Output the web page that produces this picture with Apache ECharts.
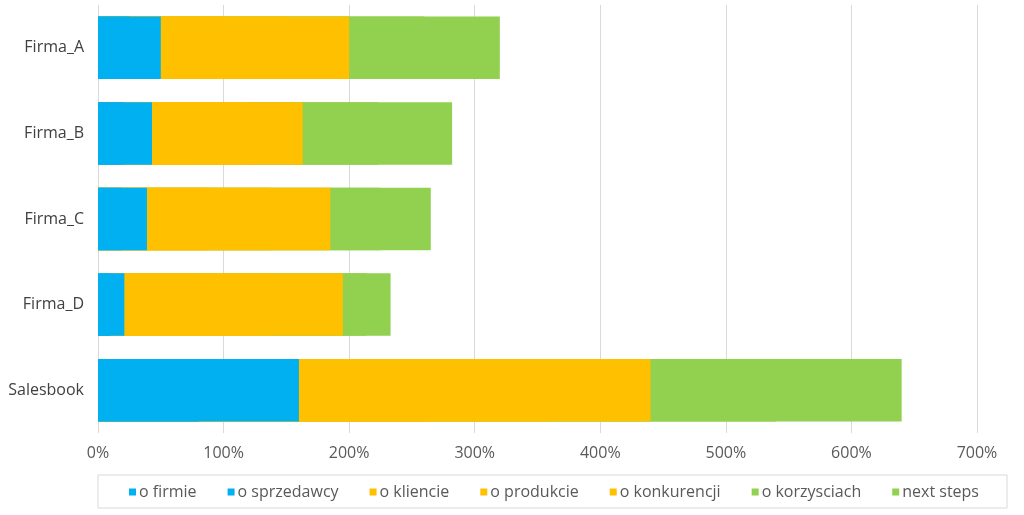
<!DOCTYPE html>
<html>
<head>
<meta charset="utf-8">
<script src="https://cdn.jsdelivr.net/npm/echarts@6/dist/echarts.min.js"></script>
<style>
  html, body { margin: 0; padding: 0; background: #fff; }
  #chart { width: 1024px; height: 515px; }
</style>
</head>
<body>
<div id="chart"></div>
<script>
// kategorie (od góry do dołu)
const categories = ['Firma_A', 'Firma_B', 'Firma_C', 'Firma_D', 'Salesbook']

// wartości w % dla każdej sekcji
const oFirmie = [25, 20, 19, 10, 80]
const oSprzedawcy = [25, 23, 20, 11, 80]
const oKliencie = [50, 40, 50, 60, 100]
const oProdukcie = [50, 40, 48, 57, 100]
const oKonkurencji = [50, 40, 48, 57, 80]
const oKorzysciach = [60, 60, 40, 19, 100]
const nextSteps = [60, 59, 40, 19, 100]

const seriesNames = ['o firmie', 'o sprzedawcy', 'o kliencie', 'o produkcie', 'o konkurencji', 'o korzysciach', 'next steps']
const seriesData = [oFirmie, oSprzedawcy, oKliencie, oProdukcie, oKonkurencji, oKorzysciach, nextSteps]
const seriesColors = ['#00B0F0', '#00B0F0', '#FFC000', '#FFC000', '#FFC000', '#92D050', '#92D050']

const xTicks = [0, 100, 200, 300, 400, 500, 600, 700]

const FONT = 'Open Sans'

// sumy narastające - słupki nakładane na siebie (bez szwów między segmentami)
const cumulative = seriesData.map((_, i) =>
    categories.map((c, k) => seriesData.slice(0, i + 1).reduce((s, arr) => s + arr[k], 0))
)

const chart = echarts.init(document.getElementById('chart'))

const option = {
    animation: false,
    backgroundColor: '#fff',
    textStyle: { fontFamily: FONT },
    grid: { left: 98, right: 47, top: 5, bottom: 82 },
    xAxis: {
        type: 'value',
        min: xTicks[0],
        max: xTicks[xTicks.length - 1],
        interval: 100,
        axisLine: { show: false },
        axisTick: { show: false },
        splitLine: { lineStyle: { color: '#d9d9d9', width: 1 } },
        axisLabel: {
            formatter: v => v + '%',
            color: '#595959',
            fontSize: 16,
            fontFamily: FONT,
            margin: 12
        }
    },
    yAxis: {
        type: 'category',
        data: categories,
        inverse: true,
        axisLine: { show: false },
        axisTick: { show: false },
        axisLabel: { color: '#404040', fontSize: 16, fontFamily: FONT, margin: 14 }
    },
    legend: {
        data: seriesNames,
        bottom: 10,
        left: 124,
        itemWidth: 7,
        itemHeight: 7,
        itemGap: 31,
        icon: 'rect',
        textStyle: { color: '#595959', fontSize: 16, fontFamily: FONT, padding: [0, 0, 0, -2] }
    },
    graphic: [{
        type: 'rect',
        shape: { x: 98, y: 475, width: 909, height: 33 },
        style: { fill: 'none', stroke: '#d9d9d9', lineWidth: 1 },
        silent: true
    }],
    series: seriesNames.map((name, i) => ({
        name: name,
        type: 'bar',
        data: cumulative[i],
        barGap: '-100%',
        barCategoryGap: '27%',
        z: 10 - i,
        itemStyle: { color: seriesColors[i] }
    }))
}

chart.setOption(option)
</script>
</body>
</html>
